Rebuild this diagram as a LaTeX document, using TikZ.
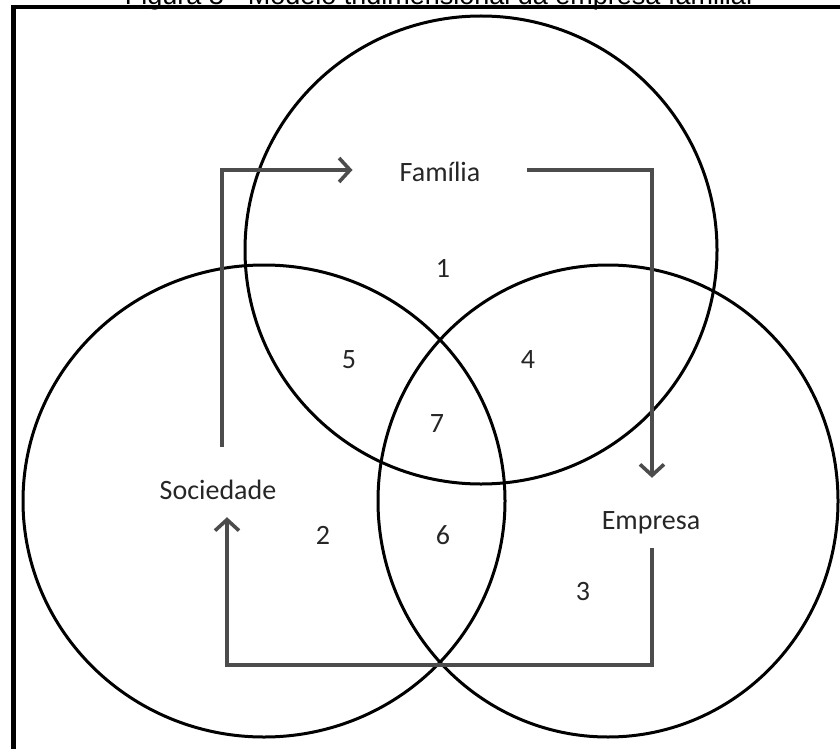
\documentclass[tikz,border=0pt]{standalone}
\usepackage{fontspec}
\setmainfont{Carlito}
\newfontfamily\titlefont{Liberation Sans}
\usetikzlibrary{positioning, arrows.meta}

\begin{document}
\begin{tikzpicture}[
  x=1pt, y=-1pt,
  % Sets (circles)
  conjunto/.style={draw=black, line width=3pt},
  % Set names and region numbers
  rotulo/.style={font=\fontsize{28}{30}\selectfont, text=black!85, inner sep=0pt, text height=22pt, text depth=0pt},
  regiao/.style={font=\fontsize{28}{30}\selectfont, text=black!85, inner sep=0pt},
  % Flow arrows
  fluxo/.style={draw=black!70, line width=3.6pt, -{Straight Barb[length=11pt, width=24pt, line width=3.6pt]}}
  ]
  \useasboundingbox (0,0) rectangle (840,749);

  % --- Title (cut at the top) and frame ---
  \node[font=\titlefont\fontsize{27}{30}\selectfont, anchor=base] (titulo) at (440,5)
    {Figura 3 - Modelo tridimensional da empresa familiar};
  \draw[line width=3.5pt] (11,7) -- (840,7);
  \draw[line width=5pt] (13,5) -- (13,749);

  % --- The three sets ---
  \draw[conjunto] (481,250) ellipse [x radius=236pt, y radius=234pt];
  \draw[conjunto] (264,501) ellipse [x radius=241pt, y radius=236pt];
  \draw[conjunto] (608,501) ellipse [x radius=230pt, y radius=236pt];

  % --- Set names ---
  \node[rotulo] (fam) at (440,170) {Família};
  \node[rotulo] (soc) at (218,488) {Sociedade};
  \node[rotulo] (emp) at (651,518) {Empresa};

  % --- Regions ---
  \node[regiao] (r1) at (443,268) {1};
  \node[regiao] (r2) at (323,535) {2};
  \node[regiao] (r3) at (583,592) {3};
  \node[regiao] (r4) at (528,360) {4};
  \node[regiao] (r5) at (349,360) {5};
  \node[regiao] (r6) at (443,535) {6};
  \node[regiao] (r7) at (437,424) {7};

  % --- Flow between the sets ---
  \coordinate (fundo) at (440,665);
  \draw[fluxo, shorten <=30pt, shorten >=47pt] ([xshift=4pt]soc.north) |- (fam.west);
  \draw[fluxo, shorten <=47pt, shorten >=29pt] (fam.east) -| ([xshift=1pt]emp.north);
  \draw[fluxo, shorten <=19pt, shorten >=18pt] ([xshift=1pt]emp.south) |- (fundo) -| ([xshift=9pt]soc.south);

\end{tikzpicture}
\end{document}
